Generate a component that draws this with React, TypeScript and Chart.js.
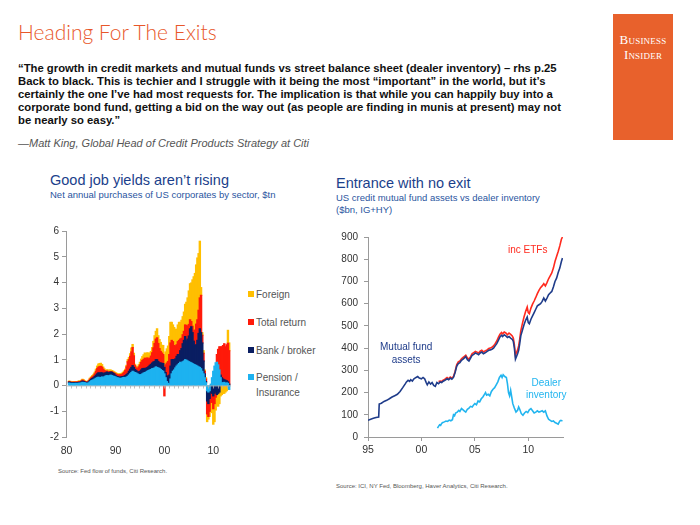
import React, { useEffect, useRef } from "react";
import { Chart, registerables } from "chart.js";
Chart.register(...registerables);

// ---------- Left chart: net annual purchases of US corporates by sector ($tn), quarterly 1980Q1..2013Q3 ----------
const flowQuarters: string[] = [];
for (let y = 1980; y <= 2013; y++) {
  for (let q = 1; q <= 4; q++) {
    if (!(y === 2013 && q === 4)) flowQuarters.push(`${y}Q${q}`);
  }
}
const flowTickQuarters = ["1980Q1", "1990Q1", "2000Q1", "2010Q1"];
const flowTickLabels = ["80", "90", "00", "10"];

const pensionInsurance = [
  null, null, 0.09, 0.08,
  0.07, 0.08, 0.07, 0.08,
  0.08, 0.07, 0.09, 0.08,
  0.10, 0.12, 0.11, 0.10,
  0.09, 0.07, 0.10, 0.14,
  0.18, 0.20, 0.22, 0.25,
  0.28, 0.30, 0.32, 0.30,
  0.31, 0.33, 0.30, 0.34,
  0.37, 0.38, 0.36, 0.38,
  0.40, 0.38, 0.36, 0.35,
  0.33, 0.30, 0.29, 0.28,
  0.27, 0.28, 0.30, 0.31,
  0.30, 0.32, 0.35, 0.40,
  0.45, 0.50, 0.55, 0.52,
  0.50, 0.48, 0.45, 0.42,
  0.40, 0.42, 0.45, 0.48,
  0.50, 0.52, 0.55, 0.58,
  0.60, 0.62, 0.65, 0.66,
  0.68, 0.72, 0.70, 0.68,
  0.66, 0.62, 0.58, 0.55,
  0.45, 0.30, 0.15, 0.08,
  0.05, 0.25, 0.45, 0.55,
  0.60, 0.68, 0.75, 0.80,
  0.85, 0.90, 0.88, 0.92,
  0.95, 1.00, 0.98, 0.95,
  0.92, 0.90, 0.88, 0.85,
  0.82, 0.80, 0.78, 0.75,
  0.72, 0.70, 0.65, 0.55,
  0.45, 0.30, 0.10, -0.20,
  -0.25, -0.20, 0.05, 0.30,
  0.55, 0.75, 0.88, 0.90,
  0.80, 0.60, 0.30, 0.10,
  0.10, 0.12, 0.08, 0.10,
  0.08, -0.15, null,
];

const bankBroker = [
  null, null, 0.04, 0.04,
  0.03, 0.03, 0.04, 0.03,
  0.03, 0.04, 0.03, 0.04,
  0.04, 0.05, 0.04, 0.03,
  0.03, 0.03, 0.04, 0.05,
  0.06, 0.07, 0.08, 0.10,
  0.12, 0.15, 0.17, 0.18,
  0.18, 0.16, 0.15, 0.14,
  0.12, 0.14, 0.13, 0.12,
  0.12, 0.13, 0.12, 0.10,
  0.06, 0.05, 0.05, 0.04,
  0.05, 0.06, 0.04, 0.05,
  0.08, 0.10, 0.12, 0.15,
  0.18, 0.20, 0.22, 0.18,
  0.12, 0.10, 0.08, 0.10,
  0.15, 0.18, 0.20, 0.18,
  0.16, 0.15, 0.14, 0.15,
  0.18, 0.20, 0.22, 0.25,
  0.25, 0.28, 0.30, 0.25,
  0.22, 0.25, 0.28, 0.30,
  0.25, 0.20, 0.22, 0.25,
  0.35, 0.50, 0.55, 0.45,
  0.40, 0.35, 0.38, 0.40,
  0.35, 0.45, 0.55, 0.70,
  0.80, 0.90, 0.75, 0.85,
  1.00, 1.30, 1.40, 1.20,
  0.90, 0.75, 0.80, 1.00,
  1.30, 1.50, 1.40, 1.10,
  0.50, 0.15, 0.05, -0.40,
  -0.45, -0.30, -0.25, -0.30,
  -0.40, -0.30, -0.25, -0.35,
  -0.30, -0.25, 0.10, 0.20,
  0.15, 0.10, 0.12, 0.08,
  0.06, 0.05, null,
];

const totalReturn = [
  null, null, 0.02, 0.02,
  0.01, 0.02, 0.01, 0.02,
  0.02, 0.02, 0.03, 0.02,
  0.03, 0.04, 0.03, 0.02,
  0.02, 0.02, 0.03, 0.05,
  0.05, 0.06, 0.07, 0.10,
  0.15, 0.20, 0.22, 0.25,
  0.25, 0.22, 0.18, 0.10,
  0.05, 0.04, 0.05, 0.04,
  0.02, 0.02, 0.03, 0.03,
  0.06, 0.08, 0.07, 0.08,
  0.10, 0.08, 0.12, 0.15,
  0.20, 0.30, 0.45, 0.45,
  0.50, 0.60, 0.70, 0.45,
  0.15, 0.10, 0.12, 0.20,
  0.25, 0.30, 0.32, 0.35,
  0.40, 0.35, 0.38, 0.30,
  0.28, 0.32, 0.40, 0.55,
  0.70, 0.80, 0.85, 0.70,
  0.55, 0.45, 0.40, 0.35,
  -0.40, 0.30, 0.50, 0.60,
  0.80, 0.90, 0.75, 0.70,
  0.55, 0.50, 0.45, 0.50,
  0.55, 0.45, 0.40, 0.35,
  0.35, 0.45, 0.60, 0.50,
  0.45, 0.35, 0.20, 0.25,
  0.40, 0.60, 0.80, 0.80,
  0.90, 1.20, 1.45, 0.30,
  0.30, 0.10, 0.10, -0.50,
  -0.50, -0.50, -0.40, -0.35,
  -0.50, -0.40, -0.20, 0.30,
  0.60, 0.90, 1.10, 1.20,
  1.30, 1.40, 1.30, 1.40,
  1.50, 1.30, null,
];

const foreign = [
  null, null, 0.02, 0.02,
  0.02, 0.02, 0.02, 0.02,
  0.02, 0.02, 0.03, 0.03,
  0.03, 0.03, 0.04, 0.03,
  0.02, 0.02, 0.03, 0.04,
  0.04, 0.05, 0.06, 0.06,
  0.08, 0.10, 0.12, 0.12,
  0.12, 0.10, 0.08, 0.06,
  0.04, 0.05, 0.05, 0.06,
  0.06, 0.05, 0.05, 0.05,
  0.05, 0.04, 0.04, 0.05,
  0.04, 0.05, 0.05, 0.05,
  0.05, 0.06, 0.08, 0.08,
  0.10, 0.15, 0.12, 0.10,
  0.05, 0.05, 0.06, 0.08,
  0.10, 0.12, 0.15, 0.18,
  0.20, 0.22, 0.20, 0.22,
  0.20, 0.18, 0.20, 0.25,
  0.30, 0.30, 0.35, 0.30,
  0.35, 0.35, 0.30, 0.35,
  0.45, 0.50, 0.55, 0.60,
  0.70, 0.80, 0.70, 0.65,
  0.70, 0.65, 0.60, 0.65,
  0.70, 0.65, 0.70, 0.70,
  0.75, 0.80, 0.90, 1.10,
  1.30, 1.40, 1.50, 1.80,
  2.10, 2.20, 2.30, 2.40,
  2.20, 2.20, 0.30, 0.10,
  0.10, 0.05, 0.05, -0.30,
  -0.10, -0.20, -0.30, -0.40,
  -0.60, -0.70, -0.50, -0.40,
  -0.50, -0.45, -0.40, -0.35,
  -0.30, -0.30, -0.25, -0.20,
  0.50, 0.30, null,
];

// ---------- Right chart: US credit mutual fund assets vs dealer inventory ($bn) ----------
const fundTickYears = [1995, 2000, 2005, 2010];
const fundTickLabels = ["95", "00", "05", "10"];

const mutualFundDates = [
  1995.0, 1995.25, 1995.5, 1995.75, 1996.0, 1996.05, 1996.25, 1996.5, 1996.75, 1997.0,
  1997.25, 1997.5, 1997.75, 1998.0, 1998.25, 1998.5, 1998.6, 1998.75, 1998.9, 1999.0,
  1999.15, 1999.3, 1999.5, 1999.65, 1999.8, 2000.0, 2000.15, 2000.3, 2000.45, 2000.55,
  2000.7, 2000.85, 2001.0, 2001.15, 2001.3, 2001.45, 2001.6, 2001.75, 2001.9, 2002.0,
  2002.2, 2002.4, 2002.55, 2002.7, 2002.85, 2003.0, 2003.15, 2003.3, 2003.45, 2003.6,
  2003.75, 2003.9, 2004.0, 2004.15, 2004.3, 2004.45, 2004.6, 2004.75, 2004.9, 2005.05,
  2005.2, 2005.35, 2005.5, 2005.65, 2005.8, 2006.0, 2006.15, 2006.3, 2006.45, 2006.6,
  2006.75, 2006.9, 2007.05, 2007.2, 2007.35, 2007.5, 2007.6, 2007.75, 2007.9, 2008.05,
  2008.2, 2008.35, 2008.5, 2008.6, 2008.7, 2008.8, 2008.9, 2009.0, 2009.1, 2009.2,
  2009.3, 2009.45, 2009.6, 2009.75, 2009.9, 2010.0, 2010.1, 2010.25, 2010.4, 2010.55,
  2010.7, 2010.85, 2011.0, 2011.15, 2011.3, 2011.45, 2011.6, 2011.75, 2011.9, 2012.05,
  2012.2, 2012.35, 2012.5, 2012.65, 2012.8, 2012.95, 2013.1, 2013.2,
];
const mutualFundAssets = [
  75, 80, 84, 88, 90, 148, 152, 160, 165, 172,
  180, 186, 192, 205, 222, 240, 248, 255, 250, 258,
  252, 262, 268, 272, 265, 262, 268, 262, 245, 235,
  248, 238, 245, 232, 228, 245, 240, 248, 245, 250,
  255, 262, 258, 265, 260, 268, 290, 318, 330, 335,
  345, 350, 355, 362, 348, 342, 355, 368, 372, 378,
  375, 370, 378, 382, 375, 380, 385, 390, 392, 395,
  400, 410, 420, 435, 450, 458, 452, 460, 455, 448,
  452, 445, 440, 430, 400, 350, 362, 375, 390, 420,
  455, 480, 505, 525, 540, 515, 510, 530, 545, 560,
  575, 590, 595, 600, 610, 625, 612, 625, 640, 648,
  655, 675, 700, 715, 740, 760, 790, 805,
];

const withEtfDates = [
  2001.6, 2001.75, 2001.9, 2002.0, 2002.2, 2002.4, 2002.55, 2002.7, 2002.85, 2003.0,
  2003.15, 2003.3, 2003.45, 2003.6, 2003.75, 2003.9, 2004.0, 2004.15, 2004.3, 2004.45,
  2004.6, 2004.75, 2004.9, 2005.05, 2005.2, 2005.35, 2005.5, 2005.65, 2005.8, 2006.0,
  2006.15, 2006.3, 2006.45, 2006.6, 2006.75, 2006.9, 2007.05, 2007.2, 2007.35, 2007.5,
  2007.6, 2007.75, 2007.9, 2008.05, 2008.2, 2008.35, 2008.5, 2008.6, 2008.7, 2008.8,
  2008.9, 2009.0, 2009.1, 2009.2, 2009.3, 2009.45, 2009.6, 2009.75, 2009.9, 2010.0,
  2010.1, 2010.25, 2010.4, 2010.55, 2010.7, 2010.85, 2011.0, 2011.15, 2011.3, 2011.45,
  2011.6, 2011.75, 2011.9, 2012.05, 2012.2, 2012.35, 2012.5, 2012.65, 2012.8, 2012.95,
  2013.1, 2013.2,
];
const withEtfAssets = [
  250, 252, 250, 255, 260, 268, 262, 270, 265, 272,
  295, 325, 338, 342, 352, 358, 362, 368, 356, 350,
  362, 375, 380, 385, 382, 378, 386, 390, 383, 388,
  392, 398, 400, 404, 410, 420, 432, 448, 462, 470,
  464, 472, 468, 460, 468, 462, 455, 445, 415, 368,
  380, 392, 410, 440, 478, 510, 540, 565, 585, 560,
  555, 580, 598, 612, 628, 645, 660, 672, 680, 690,
  680, 695, 712, 725, 738, 760, 790, 812, 835, 860,
  890, 900,
];

const dealerDates = [
  2001.5, 2001.6, 2001.7, 2001.8, 2001.9, 2002.0, 2002.15, 2002.3, 2002.45, 2002.6,
  2002.75, 2002.9, 2003.0, 2003.1, 2003.2, 2003.35, 2003.5, 2003.6, 2003.75, 2003.9,
  2004.0, 2004.15, 2004.3, 2004.45, 2004.6, 2004.75, 2004.9, 2005.0, 2005.15, 2005.3,
  2005.45, 2005.6, 2005.75, 2005.9, 2006.0, 2006.1, 2006.25, 2006.4, 2006.55, 2006.7,
  2006.85, 2007.0, 2007.15, 2007.3, 2007.45, 2007.55, 2007.65, 2007.8, 2007.95, 2008.05,
  2008.15, 2008.25, 2008.35, 2008.45, 2008.55, 2008.7, 2008.85, 2009.0, 2009.1, 2009.2,
  2009.35, 2009.5, 2009.65, 2009.8, 2009.95, 2010.1, 2010.25, 2010.4, 2010.55, 2010.7,
  2010.85, 2011.0, 2011.15, 2011.3, 2011.45, 2011.6, 2011.75, 2011.9, 2012.05, 2012.2,
  2012.35, 2012.5, 2012.65, 2012.8, 2012.95, 2013.05, 2013.2,
];
const dealerInventory = [
  40, 48, 55, 52, 62, 65, 68, 72, 70, 76,
  73, 78, 100, 95, 108, 112, 120, 115, 128, 122,
  118, 112, 125, 130, 138, 135, 145, 150, 145, 162,
  158, 172, 180, 192, 200, 188, 192, 185, 205, 215,
  222, 235, 248, 268, 278, 268, 280, 272, 268, 240,
  200, 185, 210, 180, 150, 130, 112, 120, 135, 125,
  105, 98, 108, 115, 110, 122, 128, 118, 108, 112,
  118, 112, 115, 118, 112, 118, 95, 80, 75, 70,
  72, 65, 62, 58, 72, 75, 72,
];

const C_FOREIGN = "#FFBF00";
const C_TOTAL = "#FF1A0A";
const C_BANK = "#0A1E62";
const C_PENSION = "#1DB2F0";
const C_FUND = "#1F3C8A";
const C_ETF = "#FF2A1E";
const C_DEALER = "#22B5EF";
const AXIS_GREY = "#9a9a9a";

const zeroLinePlugin = {
  id: "zeroLine",
  afterDatasetsDraw(chart: any) {
    const { ctx, chartArea, scales } = chart;
    const x = scales.x;
    const y0 = scales.y.getPixelForValue(0);
    const band = (chartArea.right - chartArea.left) / flowQuarters.length;
    ctx.save();
    ctx.strokeStyle = "#b0b0b0";
    ctx.lineWidth = 0.8;
    ctx.beginPath();
    ctx.moveTo(chartArea.left, y0 + 0.5);
    ctx.lineTo(chartArea.right, y0 + 0.5);
    for (let i = 0; i < flowQuarters.length; i += 4) {
      const px = Math.round(x.getPixelForValue(i) - band / 2) + 0.5;
      ctx.moveTo(px, y0);
      ctx.lineTo(px, y0 + 3);
    }
    ctx.stroke();
    ctx.restore();
  },
};

function FlowsChart() {
  const ref = useRef<HTMLCanvasElement>(null);
  useEffect(() => {
    const chart = new Chart(ref.current!, {
      type: "bar",
      data: {
        labels: flowQuarters,
        datasets: [
          { label: "Pension / Insurance", data: pensionInsurance, backgroundColor: C_PENSION },
          { label: "Bank / broker", data: bankBroker, backgroundColor: C_BANK },
          { label: "Total return", data: totalReturn, backgroundColor: C_TOTAL },
          { label: "Foreign", data: foreign, backgroundColor: C_FOREIGN },
        ].map((d) => ({
          ...d,
          borderWidth: 0,
          barPercentage: 1,
          categoryPercentage: 1,
          inflateAmount: 0.6,
        })) as any,
      },
      plugins: [zeroLinePlugin],
      options: {
        animation: false,
        responsive: false,
        devicePixelRatio: 1,
        layout: { padding: { top: 11, right: 9, left: 0, bottom: 0 } },
        plugins: { legend: { display: false }, tooltip: { enabled: false } },
        scales: {
          x: {
            stacked: true,
            grid: { display: false, drawTicks: false },
            border: { display: false },
            ticks: {
              autoSkip: false,
              maxRotation: 0,
              padding: 8,
              color: "#333",
              font: { size: 10.5, family: "Liberation Sans" },
              callback: (_v: any, i: number) => {
                const k = flowTickQuarters.indexOf(flowQuarters[i]);
                return k >= 0 ? flowTickLabels[k] : null;
              },
            },
            afterFit: (s: any) => {
              s.height = 31;
            },
          },
          y: {
            stacked: true,
            min: -2,
            max: 6,
            ticks: {
              stepSize: 1,
              padding: 3,
              color: "#333",
              font: { size: 10, family: "Liberation Sans" },
            },
            grid: { drawOnChartArea: false, tickLength: 4, color: AXIS_GREY },
            border: { color: AXIS_GREY },
            afterFit: (s: any) => {
              s.width = 36;
            },
          },
        },
      },
    });
    return () => chart.destroy();
  }, []);
  return (
    <canvas
      ref={ref}
      width={210}
      height={248}
      style={{ position: "absolute", left: 30, top: 220, width: 210, height: 248 }}
    />
  );
}

function FundsChart() {
  const ref = useRef<HTMLCanvasElement>(null);
  useEffect(() => {
    const pts = (xs: number[], ys: number[]) => xs.map((x, i) => ({ x, y: ys[i] }));
    const chart = new Chart(ref.current!, {
      type: "line",
      data: {
        datasets: [
          { label: "Dealer inventory", data: pts(dealerDates, dealerInventory), borderColor: C_DEALER },
          { label: "Mutual fund assets", data: pts(mutualFundDates, mutualFundAssets), borderColor: C_FUND },
          { label: "inc ETFs", data: pts(withEtfDates, withEtfAssets), borderColor: C_ETF },
        ].map((d) => ({ ...d, borderWidth: 1.6, pointRadius: 0, tension: 0, fill: false })) as any,
      },
      options: {
        animation: false,
        responsive: false,
        devicePixelRatio: 1,
        layout: { padding: { top: 12, right: 17, left: 0, bottom: 0 } },
        plugins: { legend: { display: false }, tooltip: { enabled: false } },
        scales: {
          x: {
            type: "linear",
            min: 1995,
            max: 2013.25,
            afterBuildTicks: (s: any) => {
              s.ticks = fundTickYears.map((v) => ({ value: v }));
            },
            ticks: {
              maxRotation: 0,
              padding: 3,
              color: "#333",
              font: { size: 10.5, family: "Liberation Sans" },
              callback: (v: any) => {
                const k = fundTickYears.indexOf(Number(v));
                return k >= 0 ? fundTickLabels[k] : "";
              },
            },
            grid: { drawOnChartArea: false, tickLength: 4, color: AXIS_GREY },
            border: { color: AXIS_GREY },
            afterFit: (s: any) => {
              s.height = 33;
            },
          },
          y: {
            min: 0,
            max: 900,
            ticks: {
              stepSize: 100,
              padding: 6,
              color: "#333",
              font: { size: 10, family: "Liberation Sans" },
            },
            grid: { drawOnChartArea: false, tickLength: 4, color: AXIS_GREY },
            border: { color: AXIS_GREY },
            afterFit: (s: any) => {
              s.width = 38;
            },
          },
        },
      },
    });
    return () => chart.destroy();
  }, []);
  return (
    <canvas
      ref={ref}
      width={250}
      height={245}
      style={{ position: "absolute", left: 330, top: 225, width: 250, height: 245 }}
    />
  );
}

const abs = (l: number, t: number, extra: React.CSSProperties = {}): React.CSSProperties => ({
  position: "absolute",
  left: l,
  top: t,
  whiteSpace: "nowrap",
  lineHeight: 1,
  ...extra,
});

const quoteLines = [
  "\u201CThe growth in credit markets and mutual funds vs street balance sheet (dealer inventory) \u2013 rhs p.25",
  "Back to black. This is techier and I struggle with it being the most \u201Cimportant\u201D in the world, but it\u2019s",
  "certainly the one I\u2019ve had most requests for. The implication is that while you can happily buy into a",
  "corporate bond fund, getting a bid on the way out (as people are finding in munis at present) may not",
  "be nearly so easy.\u201D",
];

const legendItems = [
  { text: ["Foreign"], color: C_FOREIGN, top: 287 },
  { text: ["Total return"], color: C_TOTAL, top: 315 },
  { text: ["Bank / broker"], color: C_BANK, top: 343 },
  { text: ["Pension /", "Insurance"], color: C_PENSION, top: 370 },
];

export default function App() {
  const sans = "'Liberation Sans', Arial, sans-serif";
  return (
    <div
      style={{
        position: "absolute",
        left: 0,
        top: 0,
        width: 700,
        height: 525,
        background: "#fff",
        overflow: "hidden",
        fontFamily: sans,
      }}
    >
      <div style={abs(18, 21, { fontFamily: "Lato, sans-serif", fontWeight: 300, fontSize: 21, color: "#E8572A" })}>
        Heading For The Exits
      </div>

      <div
        style={{
          position: "absolute",
          left: 613,
          top: 14,
          width: 60,
          height: 126,
          background: "#E8612C",
          color: "#fff",
          fontFamily: "'Liberation Serif', serif",
          fontVariant: "small-caps",
          fontSize: 13,
          lineHeight: "15px",
          textAlign: "center",
          paddingTop: 18,
          boxSizing: "border-box",
          letterSpacing: 0.2,
        }}
      >
        <div>Business</div>
        <div>Insider</div>
      </div>

      {quoteLines.map((l, i) => (
        <div key={i} style={abs(18, 63 + i * 13.1, { fontWeight: 700, fontSize: 11.3, color: "#111" })}>
          {l}
        </div>
      ))}
      <div style={abs(18, 138, { fontStyle: "italic", fontSize: 11, color: "#555" })}>
        {"\u2014Matt King, Global Head of Credit Products Strategy at Citi"}
      </div>

      <div style={abs(50, 173, { fontSize: 14.5, color: "#1B3F8B" })}>Good job yields aren{"\u2019"}t rising</div>
      <div style={abs(50, 190, { fontSize: 9.5, color: "#2A55A0" })}>
        Net annual purchases of US corporates by sector, $tn
      </div>

      <div style={abs(336, 176, { fontSize: 14.5, color: "#1B3F8B" })}>Entrance with no exit</div>
      <div style={abs(336, 193, { fontSize: 9.5, color: "#2A55A0" })}>US credit mutual fund assets vs dealer inventory</div>
      <div style={abs(336, 205, { fontSize: 9.5, color: "#2A55A0" })}>($bn, IG+HY)</div>

      <FlowsChart />
      <FundsChart />

      {legendItems.map((it, i) => (
        <div key={i} style={abs(248, it.top, { fontSize: 10, color: "#555", lineHeight: "15px" })}>
          <span
            style={{
              position: "absolute",
              left: 0,
              top: 4,
              width: 6,
              height: 6,
              background: it.color,
            }}
          />
          <div style={{ marginLeft: 8 }}>
            {it.text.map((t, j) => (
              <div key={j}>{t}</div>
            ))}
          </div>
        </div>
      ))}

      <div style={abs(508, 245, { fontSize: 10, color: C_ETF })}>inc ETFs</div>
      <div style={abs(380, 340, { fontSize: 10, color: C_FUND, textAlign: "center", lineHeight: "13px" })}>
        Mutual fund
        <br />
        assets
      </div>
      <div style={abs(526, 377, { fontSize: 10, color: C_DEALER, textAlign: "center", lineHeight: "12px" })}>
        Dealer
        <br />
        inventory
      </div>

      <div style={abs(58, 468, { fontSize: 6, color: "#555" })}>Source: Fed flow of funds, Citi Research.</div>
      <div style={abs(336, 483, { fontSize: 6, color: "#555" })}>
        Source: ICI, NY Fed, Bloomberg, Haver Analytics, Citi Research.
      </div>
    </div>
  );
}
